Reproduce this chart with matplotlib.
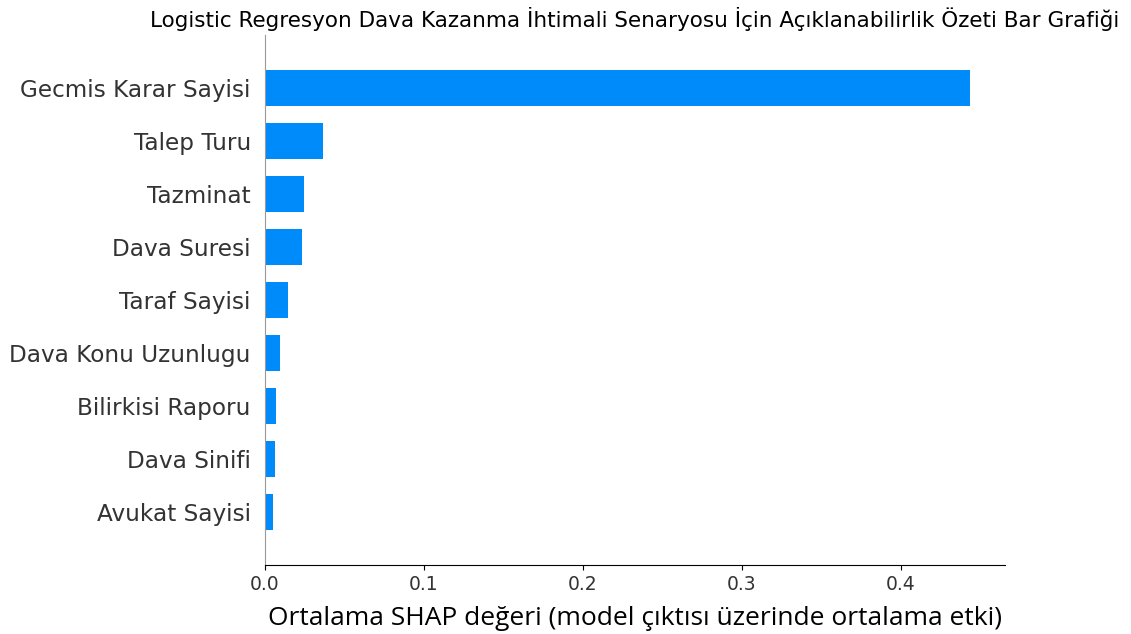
import matplotlib.pyplot as plt

features = ["Avukat Sayisi", "Dava Sinifi", "Bilirkisi Raporu", "Dava Konu Uzunlugu",
            "Taraf Sayisi", "Dava Suresi", "Tazminat", "Talep Turu", "Gecmis Karar Sayisi"]
mean_shap = [0.0053, 0.0062, 0.0070, 0.0094, 0.0145, 0.0233, 0.0250, 0.0364, 0.4440]

fig = plt.figure(figsize=(11.31, 6.34), dpi=100)
ax = fig.add_axes([0.234, 0.109, 0.655, 0.836])

y_pos = range(len(features))
ax.barh(y_pos, mean_shap, height=0.68, align='center', color='#008bfb')

ax.set_yticks(list(y_pos))
ax.set_yticklabels(features, fontsize=16.7, color='#333333')
ax.set_ylim(-1, len(features))
ax.set_xlim(0, 0.466)
ax.set_xticks([0.0, 0.1, 0.2, 0.3, 0.4])
ax.tick_params(axis='x', labelsize=13.5, labelcolor='#333333')
ax.tick_params(axis='y', length=0, pad=10)

ax.spines['right'].set_visible(False)
ax.spines['top'].set_visible(False)
ax.spines['left'].set_color('#999999')

ax.set_xlabel("Ortalama SHAP değeri (model çıktısı üzerinde ortalama etki)",
              fontsize=19, family='Open Sans', labelpad=9)
ax.set_title("Logistic Regresyon Dava Kazanma İhtimali Senaryosu İçin Açıklanabilirlik Özeti Bar Grafiği",
             fontsize=15.5, pad=6)

fig.savefig('out.png', dpi=100)
